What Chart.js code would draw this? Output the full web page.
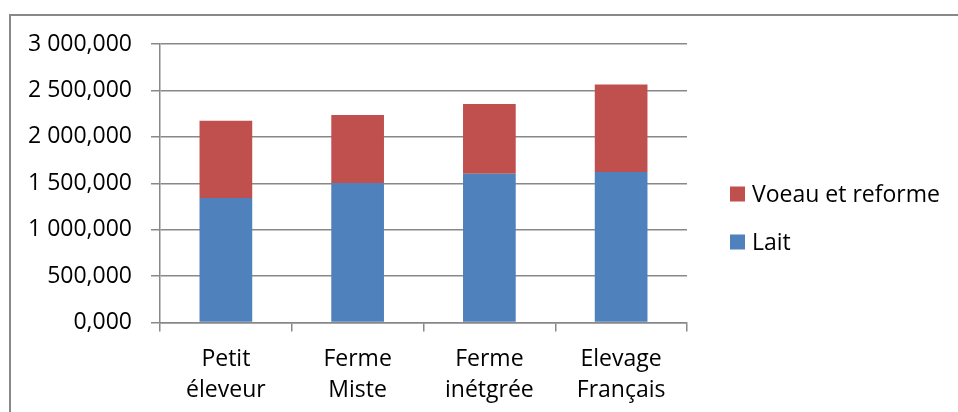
<!DOCTYPE html>
<html>
<head>
<meta charset="utf-8">
<script src="https://cdn.jsdelivr.net/npm/chart.js@4/dist/chart.umd.min.js"></script>
<style>
  body { margin: 0; background: #fff; }
  #wrap { position: relative; width: 958px; height: 412px; overflow: hidden; }
  #frame { position: absolute; left: 9px; top: 14px; width: 1000px; height: 500px;
           border-left: 2px solid #888; border-top: 2px solid #888; }
  #chart { position: absolute; left: 0; top: 0; }
</style>
</head>
<body>
<div id="wrap">
  <div id="frame"></div>
  <canvas id="chart" width="958" height="412"></canvas>
</div>
<script>
var categories = [["Petit", "éleveur"], ["Ferme", "Miste"], ["Ferme", "inétgrée"], ["Elevage", "Français"]];
var lait = [1340, 1502, 1602, 1621];
var voeau = [834, 734, 753, 942];
var tickLabels = ["0,000", "500,000", "1 000,000", "1 500,000", "2 000,000", "2 500,000", "3 000,000"];

var fontFamily = "'Open Sans', sans-serif";

// legende dessinee a la main, ordre inverse comme dans Excel
var legendPlugin = {
    id: "sideLegend",
    afterDraw: function (chart) {
        var ctx = chart.ctx;
        var items = chart.data.datasets.slice().reverse();
        ctx.save();
        ctx.font = "23px " + fontFamily;
        ctx.textBaseline = "middle";
        items.forEach(function (ds, i) {
            var cy = 194 + i * 48;
            ctx.fillStyle = ds.backgroundColor;
            ctx.fillRect(730, cy - 7.5, 15, 15);
            ctx.fillStyle = "#000";
            ctx.fillText(ds.label, 752, cy + 1);
        });
        ctx.restore();
    }
};

var ctx = document.querySelector("#chart").getContext("2d");
var myChart = new Chart(ctx, {
    type: "bar",
    data: {
        labels: categories,
        datasets: [{
            label: "Lait",
            data: lait,
            backgroundColor: "#4F81BD",
            barPercentage: 0.4,
            categoryPercentage: 1
        }, {
            label: "Voeau et reforme",
            data: voeau,
            backgroundColor: "#C0504D",
            barPercentage: 0.4,
            categoryPercentage: 1
        }]
    },
    options: {
        responsive: false,
        animation: false,
        layout: { padding: { top: 44, right: 271, bottom: 0, left: 0 } },
        plugins: {
            legend: { display: false },
            tooltip: { enabled: false }
        },
        scales: {
            x: {
                stacked: true,
                afterFit: function (scale) { scale.height = 89.5; },
                grid: { drawOnChartArea: false, drawTicks: true, tickLength: 9, offset: true, color: "#888", lineWidth: 1.5 },
                border: { color: "#888", width: 1.5 },
                ticks: { color: "#000", padding: 12, font: { family: fontFamily, size: 23, lineHeight: 1.35 } }
            },
            y: {
                stacked: true,
                min: 0,
                max: 3000,
                afterFit: function (scale) { scale.width = 160; },
                grid: { color: "#888", lineWidth: 1.5, tickLength: 9 },
                border: { color: "#888", width: 1.5 },
                ticks: {
                    stepSize: 500,
                    color: "#000",
                    padding: 19,
                    font: { family: fontFamily, size: 23 },
                    callback: function (value, index) { return tickLabels[index]; }
                }
            }
        }
    },
    plugins: [legendPlugin]
});
</script>
</body>
</html>
